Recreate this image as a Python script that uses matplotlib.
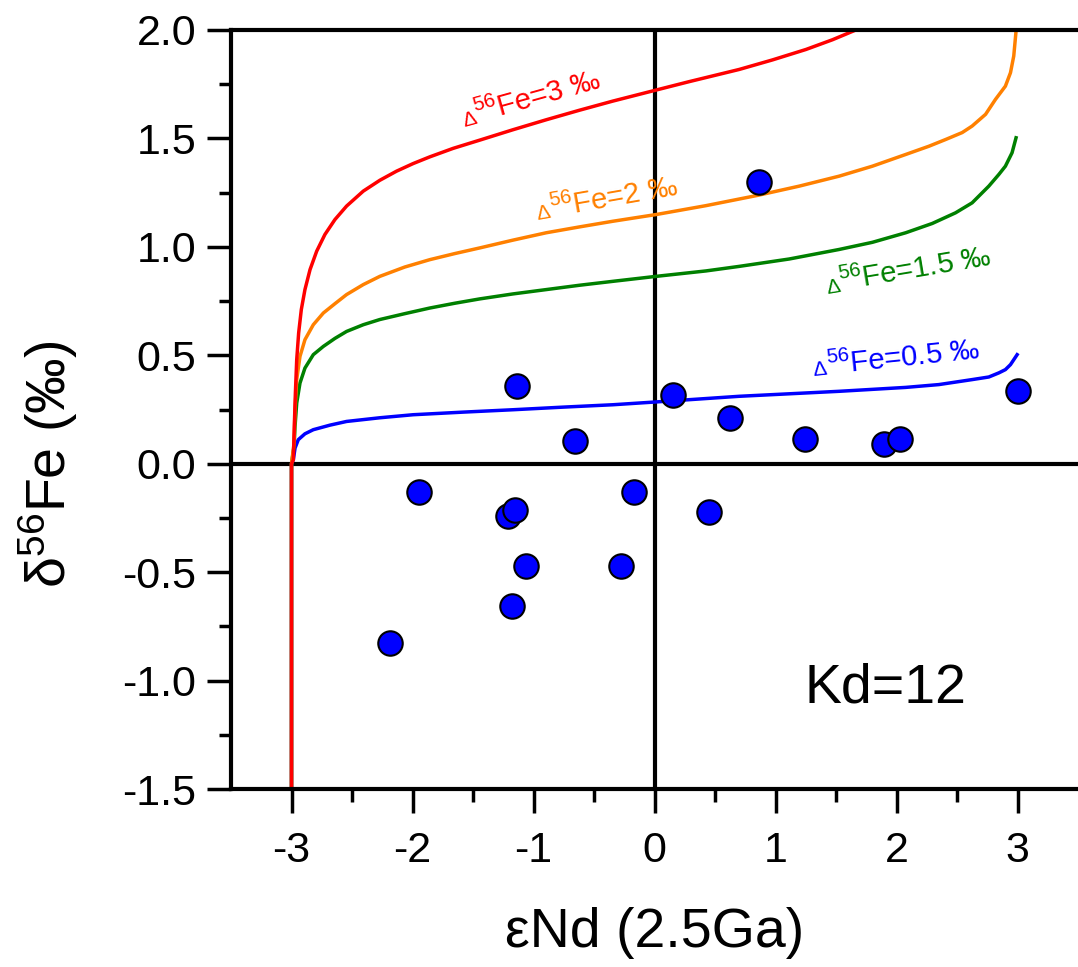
import matplotlib
matplotlib.use("Agg")
import matplotlib.pyplot as plt

plt.rcParams['font.family'] = ['Liberation Sans', 'DejaVu Sans']
plt.rcParams['mathtext.fontset'] = 'custom'
plt.rcParams['mathtext.rm'] = 'Liberation Sans'
plt.rcParams['mathtext.it'] = 'Liberation Sans'

# samples (eNd 2.5Ga, d56Fe)
end_vals = [-2.19, -1.95, -1.21, -1.15, -1.18, -1.06, -1.14, -0.655, -0.28, -0.17,
            0.155, 0.447, 0.627, 0.86, 1.247, 1.893, 2.025, 3.008]
fe_vals = [-0.828, -0.128, -0.242, -0.213, -0.657, -0.473, 0.358, 0.105, -0.473, -0.128,
           0.316, -0.221, 0.211, 1.297, 0.112, 0.092, 0.116, 0.337]

# mixing curves
blue_x = [-3.0, -3.0, -2.985, -2.971, -2.944, -2.889, -2.82, -2.682, -2.545, -2.27, -1.995,
          -1.582, -1.17, -0.757, -0.345, 0.013, 0.70, 1.526, 2.076, 2.35, 2.625, 2.763,
          2.846, 2.90, 2.942, 2.997]
blue_y = [-1.5, 0.0, 0.018, 0.072, 0.111, 0.138, 0.157, 0.178, 0.195, 0.212, 0.226,
          0.238, 0.249, 0.261, 0.272, 0.285, 0.311, 0.334, 0.352, 0.365, 0.388, 0.40,
          0.419, 0.434, 0.457, 0.503]

green_x = [-3.0, -3.0, -2.979, -2.971, -2.957, -2.93, -2.889, -2.82, -2.737, -2.641, -2.545,
           -2.407, -2.27, -2.064, -1.857, -1.651, -1.445, -1.17, -0.895, -0.62, -0.345, 0.013,
           0.425, 0.70, 1.113, 1.526, 1.801, 2.076, 2.296, 2.488, 2.625, 2.763, 2.846, 2.90,
           2.955, 2.988]
green_y = [-1.5, 0.0, 0.08, 0.172, 0.28, 0.372, 0.441, 0.503, 0.541, 0.578, 0.61,
           0.641, 0.665, 0.692, 0.718, 0.74, 0.76, 0.783, 0.803, 0.823, 0.841, 0.864,
           0.889, 0.91, 0.944, 0.988, 1.021, 1.065, 1.108, 1.157, 1.203, 1.28, 1.334, 1.372,
           1.434, 1.503]

orange_x = [-3.0, -3.0, -2.979, -2.971, -2.957, -2.93, -2.889, -2.82, -2.737, -2.641, -2.545,
            -2.407, -2.27, -2.064, -1.857, -1.651, -1.445, -1.17, -0.895, -0.62, -0.345, 0.013,
            0.425, 0.866, 1.196, 1.526, 1.801, 2.076, 2.268, 2.406, 2.543, 2.625, 2.736, 2.818,
            2.90, 2.942, 2.969, 2.988]
orange_y = [-1.5, 0.0, 0.095, 0.249, 0.388, 0.495, 0.572, 0.641, 0.695, 0.738, 0.78,
            0.826, 0.864, 0.907, 0.941, 0.969, 0.995, 1.031, 1.065, 1.092, 1.118, 1.149,
            1.19, 1.239, 1.28, 1.326, 1.372, 1.426, 1.464, 1.495, 1.527, 1.557, 1.611, 1.68,
            1.741, 1.803, 1.88, 1.995]

red_x = [-3.0, -3.0, -2.985, -2.977, -2.968, -2.957, -2.941, -2.919, -2.889, -2.847, -2.792,
         -2.724, -2.641, -2.545, -2.407, -2.27, -2.132, -1.995, -1.857, -1.665, -1.445, -1.17,
         -0.895, -0.62, -0.345, 0.013, 0.288, 0.70, 0.975, 1.251, 1.471, 1.664]
red_y = [-1.5, 0.0, 0.018, 0.172, 0.326, 0.48, 0.603, 0.711, 0.803, 0.895, 0.98,
         1.057, 1.126, 1.188, 1.257, 1.307, 1.349, 1.384, 1.415, 1.454, 1.492, 1.54,
         1.586, 1.63, 1.672, 1.723, 1.762, 1.818, 1.862, 1.91, 1.955, 2.0]

# label anchors (where the Delta ends), rotation, text
lab_x = [-1.461, -0.853, 1.539, 1.429]
lab_y = [1.569, 1.134, 0.795, 0.411]
lab_rot = [15.5, 10, 9.5, 6]
lab_val = ['3', '2', '1.5', '0.5']
lab_col = ['#ff0000', '#ff8000', '#008000', '#0000ff']

fig = plt.figure(figsize=(10.78, 9.67), dpi=100)
ax = fig.add_axes([0.2143, 0.184, 0.7857, 0.785])

ax.axhline(0, color='black', lw=3, zorder=1)
ax.axvline(0, color='black', lw=3, zorder=1)

ax.plot(blue_x, blue_y, color='#0000ff', lw=2.5, zorder=2)
ax.plot(green_x, green_y, color='#008000', lw=2.5, zorder=2)
ax.plot(orange_x, orange_y, color='#ff8000', lw=2.5, zorder=2)
ax.plot(red_x, red_y, color='#ff0000', lw=2.5, zorder=2)

ax.scatter(end_vals, fe_vals, s=310, color='#0000ff', edgecolors='black',
           linewidths=1.5, zorder=3)

# curve labels: small Delta + rest of the text on the same rotated baseline
for x, y, r, v, c in zip(lab_x, lab_y, lab_rot, lab_val, lab_col):
    ax.text(x, y, 'Δ', color=c, fontsize=15, rotation=r, rotation_mode='anchor',
            ha='right', va='baseline')
    ax.text(x, y, r'$^{56}$Fe=' + v + ' ‰', color=c, fontsize=21, rotation=r,
            rotation_mode='anchor', ha='left', va='baseline')

ax.text(1.905, -1.034, 'Kd=12', fontsize=40, ha='center', va='center')

ax.set_xlim(-3.5, 3.5)
ax.set_ylim(-1.5, 2.0)
ax.set_xticks([-3, -2, -1, 0, 1, 2, 3])
ax.set_xticks([-2.5, -1.5, -0.5, 0.5, 1.5, 2.5], minor=True)
ax.set_yticks([-1.5, -1.0, -0.5, 0.0, 0.5, 1.0, 1.5, 2.0])
ax.set_yticks([-1.25, -0.75, -0.25, 0.25, 0.75, 1.25, 1.75], minor=True)
ax.set_yticklabels(['-1.5', '-1.0', '-0.5', '0.0', '0.5', '1.0', '1.5', '2.0'])
ax.set_xticklabels(['-3', '-2', '-1', '0', '1', '2', '3'])

ax.tick_params(which='major', direction='out', length=17, width=2.5, labelsize=31)
ax.tick_params(which='minor', direction='out', length=9, width=2.5)
ax.tick_params(axis='x', which='major', pad=13)
ax.tick_params(axis='y', which='major', pad=8)

for side in ['left', 'bottom', 'top']:
    ax.spines[side].set_linewidth(3)
ax.spines['right'].set_visible(False)

ax.set_xlabel('εNd (2.5Ga)', fontsize=40, labelpad=26)
ax.set_ylabel(r'δ$^{56}$Fe (‰)', fontsize=40)
ax.yaxis.set_label_coords(-0.178, 0.428)

fig.savefig('out.png', dpi=100)
